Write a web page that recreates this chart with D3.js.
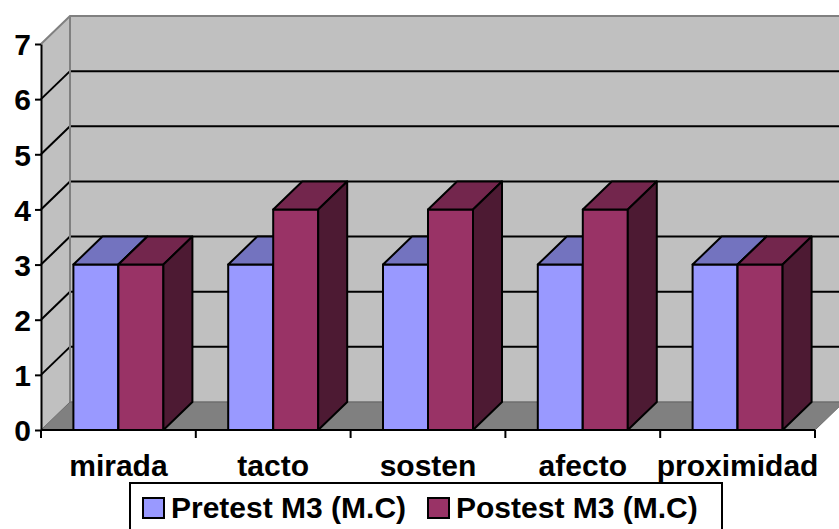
<!DOCTYPE html>
<html>
<head>
<meta charset="utf-8">
<script src="https://cdn.jsdelivr.net/npm/d3@7"></script>
<style>
  html, body { margin: 0; padding: 0; background: #ffffff; }
  svg { display: block; }
  text { font-family: Arial, "Liberation Sans", Helvetica, sans-serif; font-weight: bold; fill: #000; }
</style>
</head>
<body>
<svg id="chart" width="839" height="529"></svg>
<script>
// Chart data
const categories = ["mirada", "tacto", "sosten", "afecto", "proximidad"];
const seriesNames = ["Pretest M3 (M.C)", "Postest M3 (M.C)"];
const pretestValues = [3, 3, 3, 3, 3];
const postestValues = [3, 4, 4, 4, 3];
const yTickValues = [0, 1, 2, 3, 4, 5, 6, 7];

const seriesColors = ["#9999FF", "#993366"];

const svg = d3.select("#chart");

// Plot frame (front plane) and depth offset of the 3D box
const plotLeft = 41, plotRight = 815, plotBottom = 430, plotTop = 44;
const dx = 29, dy = 28;

const x = d3.scaleBand().domain(categories).range([plotLeft, plotRight]).paddingInner(0).paddingOuter(0);
const xs = d3.scaleBand().domain(seriesNames).range([0, x.bandwidth()]).paddingInner(0).paddingOuter(0.72);
const y = d3.scaleLinear().domain([0, 7]).range([plotBottom, plotTop]);

const shade = (c, k) => {
  const r = d3.rgb(c);
  return d3.rgb(r.r * k, r.g * k, r.b * k).formatHex();
};
const poly = pts => pts.map(p => p.join(",")).join(" ");

const g = svg.append("g");

// Back wall
g.append("rect")
  .attr("x", plotLeft + dx).attr("y", y(7) - dy)
  .attr("width", plotRight - plotLeft).attr("height", y(0) - y(7))
  .attr("fill", "#C0C0C0");

// Side wall
g.append("polygon")
  .attr("points", poly([[plotLeft, y(0)], [plotLeft, y(7)], [plotLeft + dx, y(7) - dy], [plotLeft + dx, y(0) - dy]]))
  .attr("fill", "#C0C0C0");

// Floor
g.append("polygon")
  .attr("points", poly([[plotLeft, y(0)], [plotRight, y(0)], [plotRight + dx, y(0) - dy], [plotLeft + dx, y(0) - dy]]))
  .attr("fill", "#808080")
  .attr("stroke", "#6a6a6a").attr("stroke-width", 1);

// Gridlines on back and side walls
const gridVals = yTickValues.filter(v => v > 0 && v < 7);
g.selectAll(".grid-back").data(gridVals).join("line")
  .attr("x1", plotLeft + dx).attr("x2", plotRight + dx)
  .attr("y1", d => y(d) - dy).attr("y2", d => y(d) - dy)
  .attr("stroke", "#000").attr("stroke-width", 2);
g.selectAll(".grid-side").data(gridVals).join("line")
  .attr("x1", plotLeft).attr("y1", d => y(d))
  .attr("x2", plotLeft + dx).attr("y2", d => y(d) - dy)
  .attr("stroke", "#000").attr("stroke-width", 2);

// Wall edges
g.append("polyline")
  .attr("points", poly([[plotLeft, y(7)], [plotLeft + dx, y(7) - dy], [plotRight + dx, y(7) - dy]]))
  .attr("fill", "none").attr("stroke", "#808080").attr("stroke-width", 2);
g.append("line")
  .attr("x1", plotLeft + dx).attr("x2", plotLeft + dx)
  .attr("y1", y(7) - dy).attr("y2", y(0) - dy)
  .attr("stroke", "#808080").attr("stroke-width", 2);
g.append("line")
  .attr("x1", plotLeft + dx).attr("x2", plotRight + dx)
  .attr("y1", y(0) - dy).attr("y2", y(0) - dy)
  .attr("stroke", "#707070").attr("stroke-width", 1);

// 3D bars
const barData = [];
categories.forEach((c, i) => {
  barData.push({ cat: c, series: seriesNames[0], value: pretestValues[i], color: seriesColors[0] });
  barData.push({ cat: c, series: seriesNames[1], value: postestValues[i], color: seriesColors[1] });
});

const bars = g.selectAll(".bar").data(barData).join("g").attr("class", "bar");
bars.each(function (d) {
  const b = d3.select(this);
  const x0 = x(d.cat) + xs(d.series);
  const x1 = x0 + xs.bandwidth();
  const y0 = y(0), y1 = y(d.value);
  // front
  b.append("polygon")
    .attr("points", poly([[x0, y0], [x0, y1], [x1, y1], [x1, y0]]))
    .attr("fill", d.color);
  // top
  b.append("polygon")
    .attr("points", poly([[x0, y1], [x0 + dx, y1 - dy], [x1 + dx, y1 - dy], [x1, y1]]))
    .attr("fill", shade(d.color, 0.75));
  // side
  b.append("polygon")
    .attr("points", poly([[x1, y0], [x1, y1], [x1 + dx, y1 - dy], [x1 + dx, y0 - dy]]))
    .attr("fill", shade(d.color, 0.5));
  b.selectAll("polygon")
    .attr("stroke", "#000").attr("stroke-width", 2).attr("stroke-linejoin", "round");
});

// Y axis
const yAxis = d3.axisLeft(y).tickValues(yTickValues).tickSize(6).tickSizeOuter(0).tickPadding(4).tickFormat(d3.format("d"));
const ya = svg.append("g").attr("transform", `translate(${plotLeft},0)`).call(yAxis);
ya.select(".domain").attr("stroke", "#000").attr("stroke-width", 2);
ya.selectAll(".tick line").attr("stroke", "#000").attr("stroke-width", 2);
ya.selectAll(".tick text")
  .attr("font-size", 30).attr("font-weight", "bold")
  .attr("font-family", "Arial, 'Liberation Sans', sans-serif")
  .attr("dy", "0.36em").attr("fill", "#000");

// X axis line, boundary ticks and category labels
svg.append("line")
  .attr("x1", plotLeft).attr("x2", plotRight).attr("y1", y(0)).attr("y2", y(0))
  .attr("stroke", "#000").attr("stroke-width", 2);
const boundaries = categories.map(c => x(c)).concat([plotRight]);
svg.selectAll(".xtick").data(boundaries).join("line")
  .attr("x1", d => d).attr("x2", d => d)
  .attr("y1", y(0)).attr("y2", y(0) + 8)
  .attr("stroke", "#000").attr("stroke-width", 2);
svg.selectAll(".xlabel").data(categories).join("text")
  .attr("x", d => x(d) + x.bandwidth() / 2)
  .attr("y", 476)
  .attr("text-anchor", "middle")
  .attr("font-size", 30)
  .text(d => d);

// Legend
const legend = svg.append("g");
legend.append("rect")
  .attr("x", 130).attr("y", 483).attr("width", 592).attr("height", 50)
  .attr("fill", "#fff").attr("stroke", "#000").attr("stroke-width", 2);
const legendX = [143, 428];
const items = legend.selectAll(".item").data(seriesNames).join("g")
  .attr("transform", (d, i) => `translate(${legendX[i]},0)`);
items.append("rect")
  .attr("x", 0).attr("y", 498).attr("width", 21).attr("height", 20)
  .attr("fill", (d, i) => seriesColors[i]).attr("stroke", "#000").attr("stroke-width", 2);
items.append("text")
  .attr("x", 28).attr("y", 518)
  .attr("font-size", 30)
  .text(d => d);
</script>
</body>
</html>
